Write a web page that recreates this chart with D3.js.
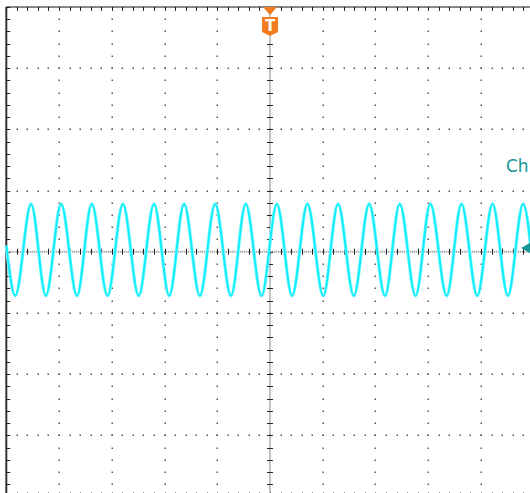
<!DOCTYPE html>
<html>
<head>
<meta charset="utf-8">
<script src="https://cdn.jsdelivr.net/npm/d3@7"></script>
<style>
html,body{margin:0;padding:0;background:#fff;overflow:hidden;}
#content{width:530px;height:493px;}
</style>
</head>
<body>
<div id="content"></div>
<script>
// scope screen: 10 x 8 divisions
var xDivs = [-5,-4,-3,-2,-1,0,1,2,3,4,5];
var yDivs = [-4,-3,-2,-1,0,1,2,3,4];
var subDiv = 0.2;

// ch1 trace (time in div, volts in div)
var peakTimes = [-4.53,-3.96,-3.38,-2.79,-2.20,-1.63,-1.04,-0.46,0.13,0.71,1.29,1.88,2.46,3.04,3.63,4.22,4.80];
var peakVolts = [0.78,0.78,0.78,0.78,0.78,0.78,0.78,0.78,0.78,0.78,0.78,0.78,0.78,0.78,0.78,0.78,0.78];
var troughTimes = [-4.83,-4.25,-3.66,-3.08,-2.49,-1.91,-1.33,-0.74,-0.16,0.42,1.01,1.59,2.18,2.76,3.35,3.93,4.51];
var troughVolts = [-0.72,-0.72,-0.72,-0.72,-0.72,-0.72,-0.72,-0.72,-0.72,-0.72,-0.72,-0.72,-0.72,-0.72,-0.72,-0.72,-0.72];
var traceStart = [-5, 0.1];
var traceEnd = [5, -0.4];

var channelName = 'Ch';
var channelOffset = 0.06;
var triggerTime = 0;

var init = init();
var axis = drawAxis(init);
drawTrace(init, axis);
drawMarkers(init, axis);

//user define
function init(){
	var width = 530;
	var height = 493;
	var svg = d3.select('#content').append('svg')
		.attr('width', width)
		.attr('height', height);
	svg.append('rect').attr('width', width).attr('height', height).attr('fill', '#fff');
	return {
		svg : svg,
		width : width,
		height : height
	}
}

function drawAxis(init){
	var x = d3.scaleLinear().domain([-5,5]).range([6.3,533.7]);
	var y = d3.scaleLinear().domain([-4,4]).range([496.5,6.9]);
	var g = init.svg.append('g').attr('class','grid');
	var minorX = d3.range(-5, 5.001, subDiv);
	var minorY = d3.range(-4, 4.001, subDiv);

	// dotted division lines
	xDivs.filter(function(d){ return d != 0 && Math.abs(d) != 5; }).forEach(function(d){
		g.selectAll(null).data(minorY).enter().append('rect')
			.attr('x', Math.round(x(d)) - 0.5)
			.attr('y', function(v){ return Math.round(y(v)) - 0.5; })
			.attr('width', 1.5).attr('height', 1.5)
			.attr('fill', '#555');
	});
	yDivs.filter(function(d){ return d != 0 && Math.abs(d) != 4; }).forEach(function(d){
		g.selectAll(null).data(minorX).enter().append('rect')
			.attr('x', function(v){ return Math.round(x(v)) - 0.5; })
			.attr('y', Math.round(y(d)) - 0.5)
			.attr('width', 1.5).attr('height', 1.5)
			.attr('fill', '#555');
	});

	// centre axes
	g.append('line').attr('x1', x(-5)).attr('x2', x(5)).attr('y1', y(0)).attr('y2', y(0))
		.attr('stroke', '#8a8a8a').attr('stroke-width', 2).attr('stroke-dasharray', '1,1');
	g.append('line').attr('x1', x(0)).attr('x2', x(0)).attr('y1', y(-4)).attr('y2', y(4))
		.attr('stroke', '#8a8a8a').attr('stroke-width', 2).attr('stroke-dasharray', '1,1');
	g.selectAll(null).data(minorX).enter().append('line')
		.attr('x1', function(v){ return Math.round(x(v)) + 0.5; })
		.attr('x2', function(v){ return Math.round(x(v)) + 0.5; })
		.attr('y1', y(0) - 3).attr('y2', y(0) + 3)
		.attr('stroke', '#222').attr('stroke-width', 1);
	g.selectAll(null).data(minorY).enter().append('line')
		.attr('y1', function(v){ return Math.round(y(v)) + 0.5; })
		.attr('y2', function(v){ return Math.round(y(v)) + 0.5; })
		.attr('x1', x(0) - 3).attr('x2', x(0) + 3)
		.attr('stroke', '#222').attr('stroke-width', 1);

	// frame with edge ticks
	g.append('line').attr('x1', x(-5)).attr('x2', x(5)).attr('y1', y(4)).attr('y2', y(4))
		.attr('stroke', '#888').attr('stroke-width', 2);
	g.append('line').attr('x1', x(-5)).attr('x2', x(5)).attr('y1', y(-4)).attr('y2', y(-4))
		.attr('stroke', '#888').attr('stroke-width', 2);
	g.append('line').attr('x1', x(-5)).attr('x2', x(-5)).attr('y1', y(4)).attr('y2', y(-4))
		.attr('stroke', '#333').attr('stroke-width', 2);
	g.selectAll(null).data(minorX).enter().append('line')
		.attr('x1', function(v){ return Math.round(x(v)) + 0.5; })
		.attr('x2', function(v){ return Math.round(x(v)) + 0.5; })
		.attr('y1', y(4)).attr('y2', y(4) + 4)
		.attr('stroke', '#222').attr('stroke-width', 1);
	g.selectAll(null).data(minorX).enter().append('line')
		.attr('x1', function(v){ return Math.round(x(v)) + 0.5; })
		.attr('x2', function(v){ return Math.round(x(v)) + 0.5; })
		.attr('y1', y(-4)).attr('y2', y(-4) - 4)
		.attr('stroke', '#222').attr('stroke-width', 1);
	g.selectAll(null).data(minorY).enter().append('line')
		.attr('y1', function(v){ return Math.round(y(v)) + 0.5; })
		.attr('y2', function(v){ return Math.round(y(v)) + 0.5; })
		.attr('x1', x(-5)).attr('x2', x(-5) + 4)
		.attr('stroke', '#222').attr('stroke-width', 1);

	return {
		x : x,
		y : y
	}
}

function drawTrace(init, axis){
	var points = [traceStart, traceEnd];
	for(var i=0; i<peakTimes.length; i++){ points.push([peakTimes[i], peakVolts[i]]); }
	for(var i=0; i<troughTimes.length; i++){ points.push([troughTimes[i], troughVolts[i]]); }
	points.sort(function(a,b){ return a[0]-b[0]; });

	var line = d3.line()
		.x(function(d){ return axis.x(d[0]); })
		.y(function(d){ return axis.y(d[1]); })
		.curve(d3.curveMonotoneX);

	init.svg.append('path')
		.attr('d', line(points))
		.attr('fill', 'none')
		.attr('stroke', '#8ff8ff')
		.attr('stroke-width', 3.4)
		.attr('stroke-linejoin', 'round');
	init.svg.append('path')
		.attr('d', line(points))
		.attr('fill', 'none')
		.attr('stroke', '#12eefc')
		.attr('stroke-width', 2)
		.attr('stroke-linejoin', 'round');
}

function drawMarkers(init, axis){
	var svg = init.svg;
	var tx = axis.x(triggerTime);
	var top = axis.y(4);
	var orange = '#f47b20';

	// trigger position
	svg.append('path')
		.attr('d', 'M'+(tx-7)+','+top+'L'+(tx+7)+','+top+'L'+tx+','+(top+8)+'Z')
		.attr('fill', orange);
	svg.append('path')
		.attr('d', 'M'+(tx-8)+','+(top+10)+'L'+(tx+8)+','+(top+10)+'L'+(tx+8)+','+(top+25)
			+'L'+tx+','+(top+29)+'L'+(tx-8)+','+(top+25)+'Z')
		.attr('fill', orange);
	svg.append('text')
		.attr('x', tx).attr('y', top+24)
		.attr('text-anchor', 'middle')
		.attr('font-family', 'DejaVu Sans, sans-serif')
		.attr('font-weight', 'bold')
		.attr('font-size', 15)
		.attr('fill', '#fff')
		.text('T');

	// channel ground marker and label
	var teal = '#129797';
	var cy = axis.y(channelOffset);
	svg.append('path')
		.attr('d', 'M'+(init.width-9)+','+cy+'L'+(init.width)+','+(cy-5)+'L'+(init.width)+','+(cy+5)+'Z')
		.attr('fill', teal);
	svg.append('text')
		.attr('x', 506).attr('y', 172)
		.attr('font-family', 'DejaVu Sans, sans-serif')
		.attr('font-size', 17)
		.attr('fill', teal)
		.text(channelName);
}
</script>
</body>
</html>
